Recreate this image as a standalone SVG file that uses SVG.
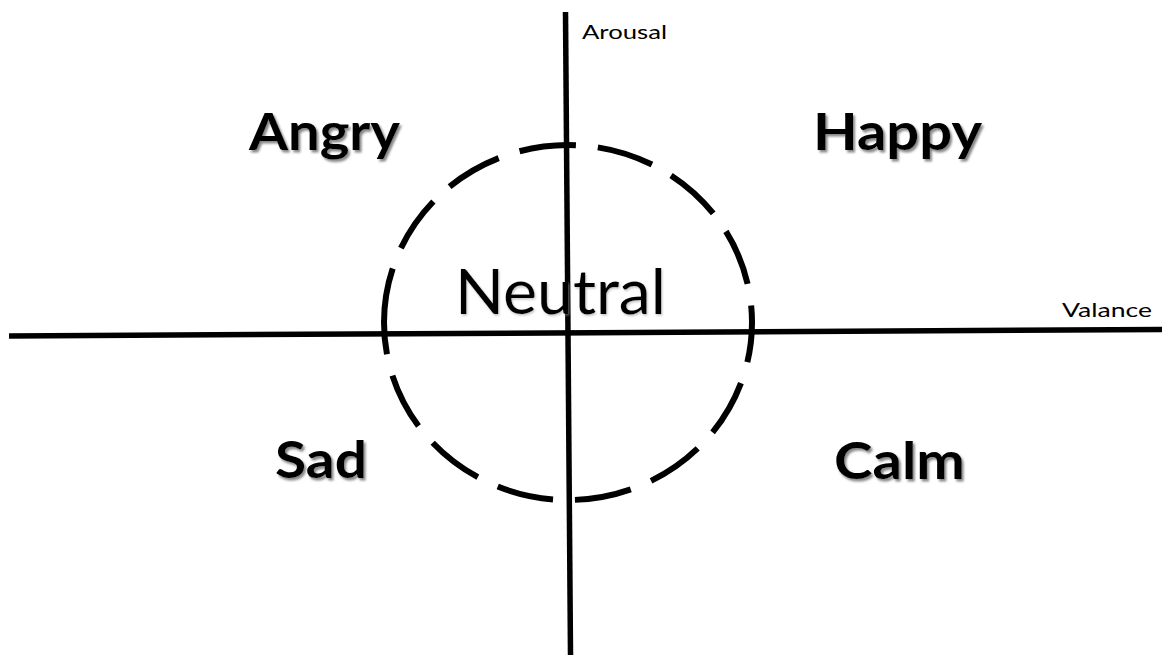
<svg xmlns="http://www.w3.org/2000/svg" width="1168" height="655" viewBox="0 0 1168 655">
<defs>
<filter id="shadow" x="-10%" y="-20%" width="130%" height="150%">
<feDropShadow dx="2" dy="2.5" stdDeviation="1" flood-color="#7a7a7a" flood-opacity="0.9"/>
</filter>
<filter id="softshadow" x="-10%" y="-20%" width="130%" height="150%">
<feDropShadow dx="1" dy="1.5" stdDeviation="1" flood-color="#999" flood-opacity="0.6"/>
</filter>
</defs>
<style>
.axis{stroke:#000;stroke-width:5.5;fill:none}
.ring{stroke:#000;stroke-width:6;fill:none;stroke-dasharray:57 22;stroke-dashoffset:2}
.emo{font-family:Lato,"Open Sans","Liberation Sans",sans-serif;font-weight:bold;font-size:51px;fill:#000;filter:url(#shadow)}
.neutral{font-family:Lato,"Open Sans","Liberation Sans",sans-serif;font-size:61px;fill:#000;filter:url(#softshadow)}
.ax{font-family:Lato,"Open Sans","Liberation Sans",sans-serif;font-size:19px;fill:#000}
</style>
<rect width="1168" height="655" fill="#fff"/>
<g id="connectors">
<line class="axis" x1="565.5" y1="12" x2="570.5" y2="655"/>
<line class="axis" x1="9" y1="336" x2="1162" y2="329.5"/>
</g>
<g id="neutral-zone">
<path class="ring" pathLength="1136" d="M384,322.5 A184,177.5 0 0 1 752,322.5 A184,177.5 0 0 1 384,322.5"/>
<text class="neutral" x="455" y="314" textLength="211" lengthAdjust="spacingAndGlyphs">Neutral</text>
</g>
<g id="axis-labels">
<text class="ax" x="582" y="39" textLength="85" lengthAdjust="spacingAndGlyphs">Arousal</text>
<text class="ax" x="1062" y="317" textLength="90" lengthAdjust="spacingAndGlyphs">Valance</text>
</g>
<g id="angry"><text class="emo" x="249" y="150" textLength="151" lengthAdjust="spacingAndGlyphs">Angry</text></g>
<g id="happy"><text class="emo" x="813" y="150" textLength="169" lengthAdjust="spacingAndGlyphs">Happy</text></g>
<g id="sad"><text class="emo" x="275" y="478" textLength="92" lengthAdjust="spacingAndGlyphs">Sad</text></g>
<g id="calm"><text class="emo" x="834" y="479" textLength="131" lengthAdjust="spacingAndGlyphs">Calm</text></g>
</svg>
